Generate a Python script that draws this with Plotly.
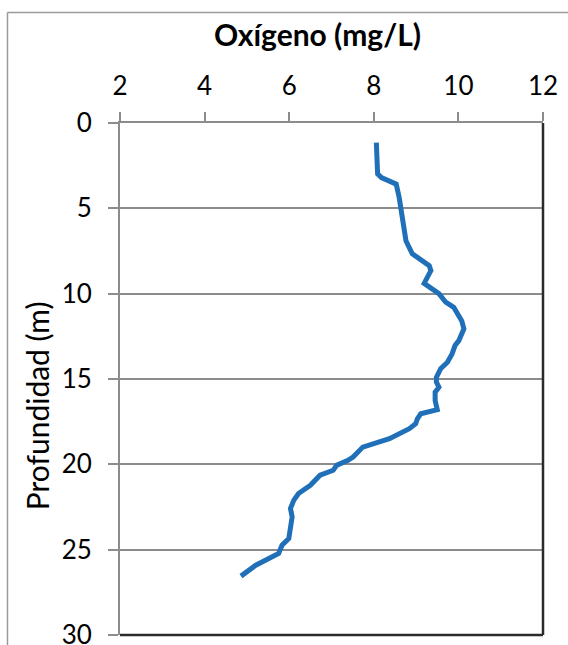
import plotly.graph_objects as go

# Dissolved-oxygen profile: depth (m) and oxygen concentration (mg/L)
depth_m = [1.15, 2.05, 2.98, 3.2, 3.58, 4.37, 5.03, 5.9, 6.9, 7.66, 7.93, 8.36,
           8.65, 9.4, 9.69, 10.0, 10.5, 10.8, 11.6, 12.06, 12.75, 13.04, 13.53,
           14.02, 14.4, 14.9, 15.19, 15.48, 15.77, 16.26, 16.8, 17.04, 17.33,
           17.62, 17.91, 18.2, 18.5, 18.99, 19.28, 19.57, 19.77, 20.06, 20.35,
           20.64, 21.23, 21.71, 22.1, 22.59, 23.08, 23.86, 24.35, 24.74, 25.22,
           25.91, 26.3, 26.55]
oxygen_mgl = [8.06, 8.07, 8.09, 8.18, 8.53, 8.60, 8.64, 8.67, 8.76, 8.91, 9.05, 9.31,
              9.35, 9.19, 9.36, 9.54, 9.70, 9.89, 10.08, 10.13, 10.01, 9.92, 9.85,
              9.74, 9.58, 9.48, 9.48, 9.54, 9.45, 9.45, 9.50, 9.11, 9.03,
              8.99, 8.84, 8.60, 8.37, 7.74, 7.63, 7.51, 7.39, 7.12, 7.04,
              6.73, 6.50, 6.22, 6.11, 6.03, 6.07, 6.03, 5.99, 5.83, 5.75,
              5.21, 5.01, 4.86]

x_ticks = [2, 4, 6, 8, 10, 12]
y_ticks = [0, 5, 10, 15, 20, 25, 30]
x_title = "Oxígeno (mg/L)"
y_title = "Profundidad (m)"

FONT = "Lato"
GRID = "#8c8c8c"
DARK = "#2b2b2b"

fig = go.Figure()
fig.add_trace(go.Scatter(
    x=oxygen_mgl, y=depth_m, mode="lines",
    line=dict(color="#1f70b8", width=5),
    hoverinfo="skip", showlegend=False,
))

fig.update_layout(
    width=568, height=645,
    margin=dict(l=120, r=25, t=123, b=10),
    paper_bgcolor="white", plot_bgcolor="white",
    font=dict(family=FONT, color="black", size=20),
    xaxis=dict(
        side="top", range=[2, 12], tickvals=x_ticks,
        showgrid=False, zeroline=False, automargin=False,
        showline=True, linecolor=GRID, linewidth=2,
        ticks="outside", ticklen=9, tickwidth=2, tickcolor=GRID,
        ticklabelstandoff=7,
        tickfont=dict(family=FONT, size=26, color="black"),
    ),
    yaxis=dict(
        range=[30, 0], tickvals=y_ticks,
        showgrid=True, gridcolor=GRID, gridwidth=2, zeroline=False, automargin=False,
        showline=True, linecolor=GRID, linewidth=2,
        ticks="outside", ticklen=10, tickwidth=2, tickcolor=GRID,
        ticklabelstandoff=11, ticklabeloverflow="allow",
        tickfont=dict(family=FONT, size=26, color="black"),
    ),
    shapes=[
        # dark right and bottom edges of the plot area
        dict(type="line", xref="x domain", yref="y domain", x0=1, x1=1, y0=0, y1=1,
             line=dict(color=DARK, width=2.5)),
        dict(type="line", xref="x domain", yref="y domain", x0=0, x1=1, y0=0, y1=0,
             line=dict(color=DARK, width=2.5)),
        # chart-area frame
        dict(type="line", xref="paper", yref="paper", x0=-0.266, x1=-0.266, y0=-0.2, y1=1.216,
             line=dict(color="#9a9a9a", width=1.5)),
        dict(type="line", xref="paper", yref="paper", x0=-0.266, x1=1.2, y0=1.216, y1=1.216,
             line=dict(color="#9a9a9a", width=1.5)),
    ],
    annotations=[
        dict(text=f"<b>{x_title}</b>", xref="paper", yref="paper",
             x=0.468, y=1.173, xanchor="center", yanchor="middle", showarrow=False,
             font=dict(family=FONT, size=30, color="black")),
        dict(text=y_title, xref="paper", yref="paper", textangle=-90,
             x=-0.197, y=0.448, xanchor="center", yanchor="middle", showarrow=False,
             font=dict(family=FONT, size=30, color="black")),
    ],
)

fig.write_html("out.html")
